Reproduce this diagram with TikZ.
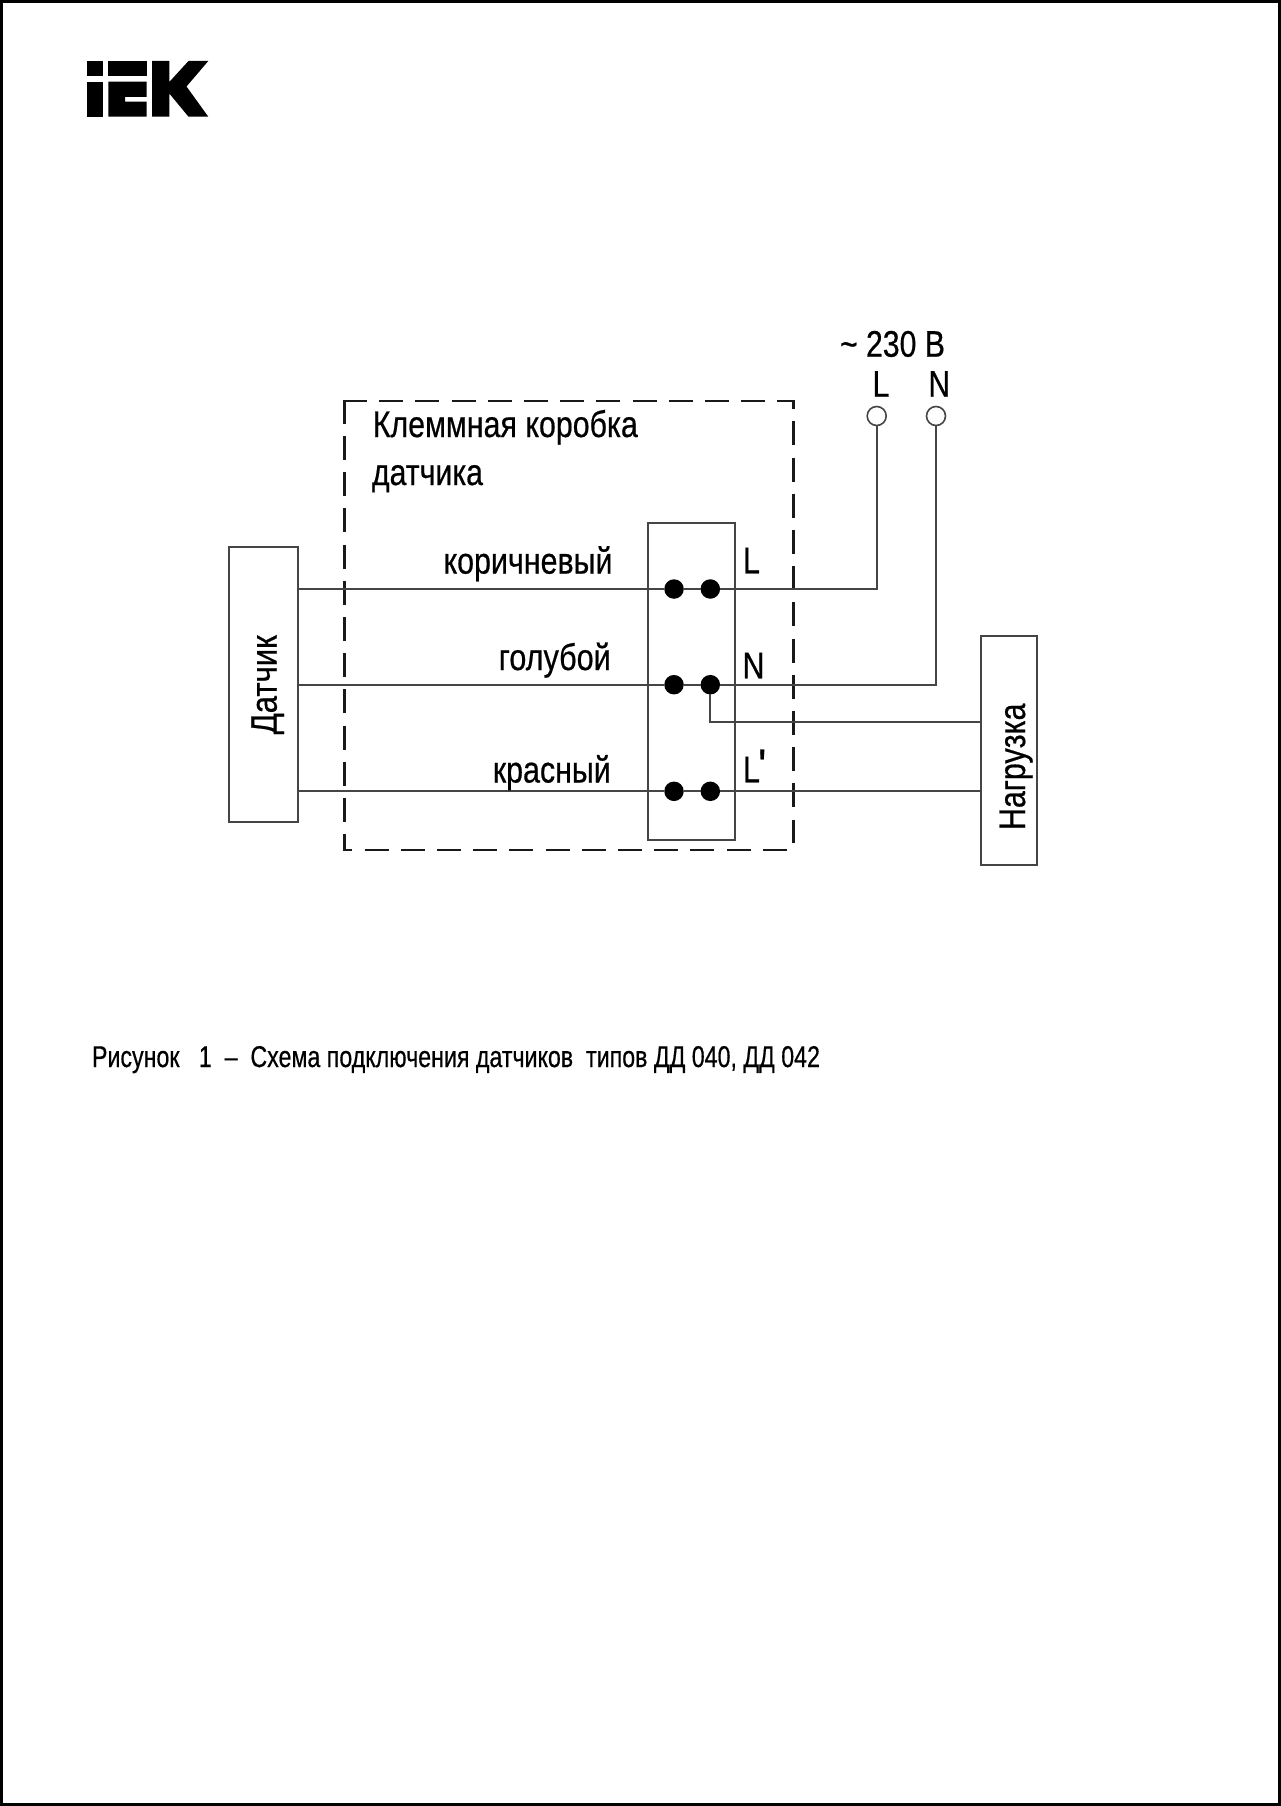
\documentclass[tikz,border=0pt]{standalone}
\usepackage{fontspec}
\usepackage{graphicx}
\newfontfamily\labfont{Liberation Sans}[FakeBold=0.6]
\newcommand{\fitw}[2]{\resizebox{#1pt}{\height}{#2}}
\definecolor{wirecol}{gray}{0.27}
\tikzset{
  lab/.style={inner sep=0pt,outer sep=0pt,anchor=base west,text=black,font=\labfont\fontsize{37}{37}\selectfont},
  small lab/.style={lab,font=\labfont\fontsize{30}{30}\selectfont},
  wire/.style={draw=wirecol,line width=1.7pt},
  boxnode/.style={draw=wirecol,line width=1.7pt,inner sep=0pt,outer sep=0pt,anchor=north west,rectangle},
  termdot/.style={circle,fill=black,draw=none,minimum size=19.5pt,inner sep=0pt,outer sep=0pt},
  ring/.style={circle,draw=wirecol,fill=white,line width=1.6pt,minimum size=19pt,inner sep=0pt,outer sep=0pt},
  dashbox/.style={draw=black!90,line width=2.7pt,dash pattern=on 24pt off 12.2pt,line join=miter},
  logo/.style={fill=black,draw=none}
}
\begin{document}
\begin{tikzpicture}[x=1pt,y=-1pt]
\useasboundingbox (0,0) rectangle (1280,1806);
% page border
\draw[line width=3pt,black] (1.5,1.5) rectangle (1279,1804);
% logo
\fill[logo] (86.7,61) rectangle (103.3,76);
\fill[logo] (86.7,81.7) rectangle (103.3,116.7);
\fill[logo] (108.3,61) rectangle (146.5,76);
\fill[logo] (108.3,81.7) -- (146.5,81.7) -- (146.5,97) -- (125,97) -- (125,101.7) -- (146.5,101.7) -- (146.5,116.7) -- (108.3,116.7) -- cycle;
\fill[logo] (152,61) -- (169.3,61) -- (169.3,82) -- (188.5,61) -- (208.3,61) -- (186.5,86.5) -- (208.3,116.7) -- (188.5,116.7) -- (169.3,93.5) -- (169.3,116.7) -- (152,116.7) -- cycle;
% dashed enclosure
\draw[dashbox] (343,401) -- (793.3,401) -- (793.3,843);
\draw[dashbox] (344.3,399.7) -- (344.3,850) -- (788,850);
% boxes
\node[boxnode,minimum width=68.7pt,minimum height=275.3pt] (sensor) at (229.3,546.8) {};
\node[boxnode,minimum width=87pt,minimum height=317pt] (block) at (647.7,523.3) {};
\node[boxnode,minimum width=56pt,minimum height=228.4pt] (load) at (981.3,636.3) {};
% terminals
\node[termdot] (a1) at (674,589) {};
\node[termdot] (b1) at (710.3,589) {};
\node[termdot] (a2) at (674,684.7) {};
\node[termdot] (b2) at (710.3,684.7) {};
\node[termdot] (a3) at (674,791.3) {};
\node[termdot] (b3) at (710.3,791.3) {};
\node[ring] (supL) at (876.7,416) {};
\node[ring] (supN) at (936,416) {};
\coordinate (loadtap) at (981.3,722);
% wires
\draw[wire] (sensor.east |- a1) -- (a1) -- (b1);
\draw[wire] (sensor.east |- a2) -- (a2) -- (b2);
\draw[wire] (sensor.east |- a3) -- (a3) -- (b3) -- (b3 -| load.west);
\draw[wire] (b1) -| (supL);
\draw[wire] (b2) -| (supN);
\draw[wire] (b2) |- (loadtap);
% labels
\node[lab] (t1) at (372.8,437) {\fitw{265}{Клеммная коробка}};
\node[lab] (t2) at (372,485) {\fitw{111}{датчика}};
\node[lab] (t3) at (443.5,573.6) {\fitw{169}{коричневый}};
\node[lab] (t4) at (498.8,670) {\fitw{112}{голубой}};
\node[lab] (t5) at (492.8,782.5) {\fitw{118}{красный}};
\node[lab,rotate=90] (t6) at (276.7,734.3) {\fitw{99}{Датчик}};
\node[lab,rotate=90] (t7) at (1025,830) {\fitw{126.5}{Нагрузка}};
\node[lab] (t8) at (743,573.3) {\fitw{17}{L}};
\node[lab] (t9) at (742.5,678.3) {\fitw{22}{N}};
\node[lab] (t10) at (743,782.3) {\fitw{17}{L}};
\node[lab,font=\labfont\fontsize{44}{44}\selectfont] (t11) at (758,780) {\symbol{39}};
\node[lab] (t12) at (840,356.7) {\fitw{105}{\textasciitilde{} 230 В}};
\node[lab] (t13) at (872.5,396.7) {\fitw{17}{L}};
\node[lab] (t14) at (928.5,396.7) {\fitw{21.5}{N}};
\node[small lab] (t15) at (92,1067) {\fitw{728}{Рисунок\ \ \ 1\ \ –\ \ Схема подключения датчиков\ \ типов ДД 040, ДД 042}};
\end{tikzpicture}
\end{document}
